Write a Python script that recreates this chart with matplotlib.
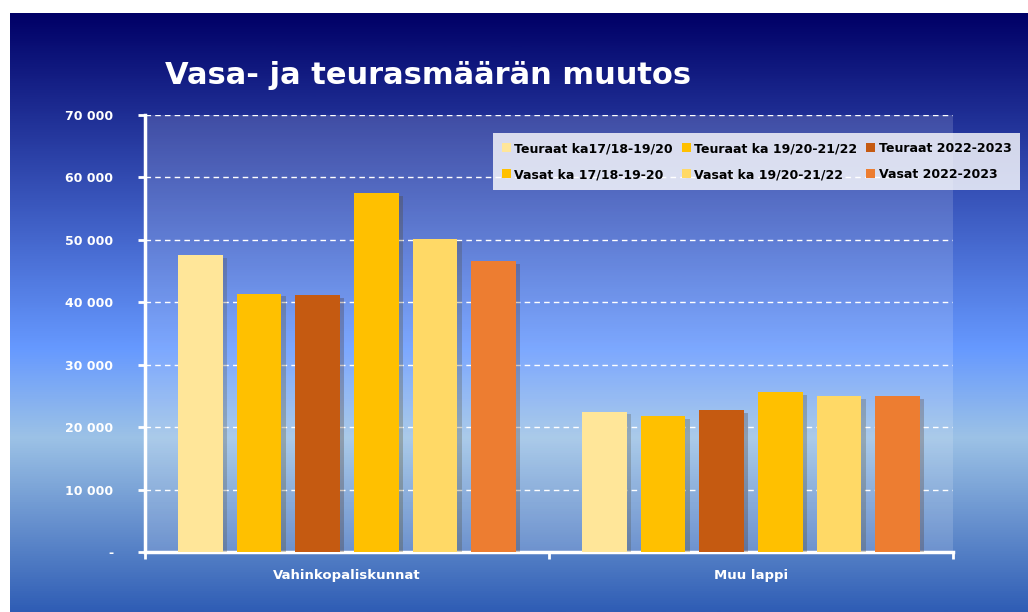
"""
Vasa- ja teurasmäärän muutos -- grouped bar chart on a blue gradient slide.
Output: out.png
"""

import numpy as np
import matplotlib
matplotlib.use("Agg")
import matplotlib.pyplot as plt
import matplotlib.patheffects as pe
from matplotlib.colors import LinearSegmentedColormap
from matplotlib.patches import Patch
from matplotlib.ticker import FuncFormatter
from matplotlib import font_manager

categories = ["Vahinkopaliskunnat", "Muu lappi"]
series_names = [
    "Teuraat ka17/18-19/20",
    "Teuraat ka 19/20-21/22",
    "Teuraat 2022-2023",
    "Vasat ka 17/18-19-20",
    "Vasat ka 19/20-21/22",
    "Vasat 2022-2023",
]
teuraat_17_20 = [47500, 22500]
teuraat_19_22 = [41400, 21800]
teuraat_2022 = [41200, 22700]
vasat_17_20 = [57500, 25600]
vasat_19_22 = [50200, 25000]
vasat_2022 = [46600, 25000]
series_colors = ["#FFE699", "#FFC000", "#C55A11", "#FFC000", "#FFD966", "#ED7D31"]
y_ticks = [0, 10000, 20000, 30000, 40000, 50000, 60000, 70000]

# a condensed face for the title if one is installed
names = {f.name for f in font_manager.fontManager.ttflist}
title_family = "Liberation Sans Narrow" if "Liberation Sans Narrow" in names else "DejaVu Sans"
print("title font:", title_family, sorted(n for n in names if "Narrow" in n or "Condensed" in n))

W, H = 1028, 612
fig = plt.figure(figsize=(W / 100, H / 100), dpi=100, facecolor="white")

# slide background: vertical gradient, with a thin white margin top/left
bg = fig.add_axes([10 / W, 0, (W - 10) / W, (H - 13) / H])
bg.axis("off")
cmap = LinearSegmentedColormap.from_list(
    "slide",
    [(0.0, "#000066"), (0.56, "#6699ff"), (0.71, "#9cc2e6"), (1.0, "#2f5db5")],
)
grad = np.linspace(0, 1, 512).reshape(-1, 1)
bg.imshow(grad, aspect="auto", cmap=cmap, extent=[0, 1, 0, 1], origin="upper")
bg.set_xlim(0, 1)
bg.set_ylim(0, 1)

fig.text(165 / W, 1 - 76 / H, "Vasa- ja teurasmäärän muutos", color="white",
         family=title_family, fontsize=28 if title_family != "DejaVu Sans" else 22,
         fontweight="bold", ha="left", va="center")

# plot area
ax = fig.add_axes([145 / W, (H - 552) / H, 808 / W, 437 / H])
ax.set_facecolor((1, 1, 1, 0.15))

values = [teuraat_17_20, teuraat_19_22, teuraat_2022, vasat_17_20, vasat_19_22, vasat_2022]
x = np.arange(len(categories))
step, width = 0.1453, 0.111
for i, (name, vals, col) in enumerate(zip(series_names, values, series_colors)):
    bars = ax.bar(x + (i - 2.5) * step, vals, width, color=col, zorder=3)
    for b in bars:
        b.set_path_effects([pe.SimplePatchShadow(offset=(3, -2), alpha=0.25), pe.Normal()])

ax.set_xlim(-0.5, 1.5)
ax.set_ylim(0, 70000)
ax.set_yticks(y_ticks)
ax.yaxis.set_major_formatter(FuncFormatter(
    lambda v, p: "-" if v == 0 else f"{int(v):,}".replace(",", " ")))
ax.grid(axis="y", color="white", linestyle=(0, (4, 3)), linewidth=1, zorder=1)
ax.set_axisbelow(True)

ax.set_xticks([-0.5, 0.5, 1.5])
ax.set_xticklabels([])
ax.set_xticks(x, minor=True)
ax.set_xticklabels(categories, minor=True)
ax.tick_params(axis="x", which="major", direction="out", length=5, width=2, color="white")
ax.tick_params(axis="x", which="minor", length=0, pad=12)
ax.tick_params(axis="y", direction="out", length=5, width=2, color="white", pad=18)
for lab in ax.get_xticklabels(minor=True):
    lab.set_color("white")
    lab.set_fontweight("bold")
    lab.set_fontsize(9.5)
for lab in ax.get_yticklabels():
    lab.set_color("white")
    lab.set_fontweight("bold")
    lab.set_fontsize(9)

for s in ("top", "right"):
    ax.spines[s].set_visible(False)
for s in ("left", "bottom"):
    ax.spines[s].set_color("white")
    ax.spines[s].set_linewidth(2.5)

# legend filled row by row like the original
order = [0, 3, 1, 4, 2, 5]
proxies = [Patch(facecolor=c, edgecolor="none") for c in series_colors]
leg = fig.legend([proxies[i] for i in order], [series_names[i] for i in order],
                 ncol=3, loc="upper left", bbox_to_anchor=(487 / W, 1 - 127 / H),
                 frameon=True, fancybox=False, handlelength=0.7, handleheight=0.7,
                 handletextpad=0.3, columnspacing=0.7, labelspacing=1.05,
                 borderpad=0.7, prop={"weight": "bold", "size": 9})
leg.get_frame().set_facecolor((1, 1, 1, 0.7))
leg.get_frame().set_edgecolor("none")

fig.savefig("out.png", dpi=100)
